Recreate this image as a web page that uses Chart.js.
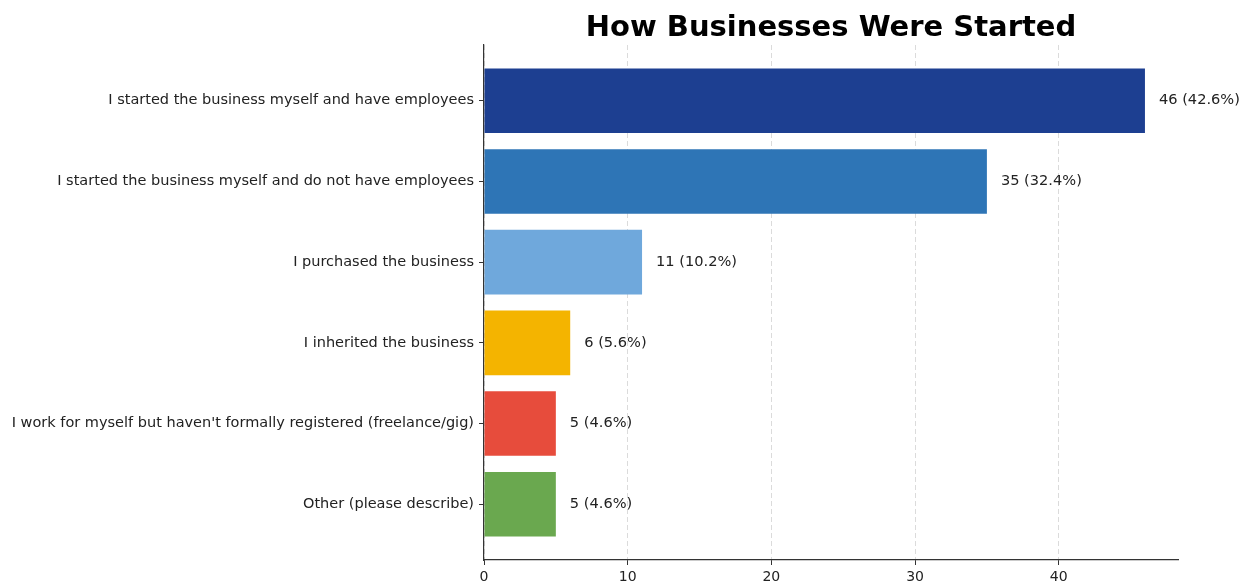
<!DOCTYPE html>
<html>
<head>
<meta charset="utf-8">
<script src="https://cdn.jsdelivr.net/npm/chart.js@4.4.1/dist/chart.umd.min.js"></script>
<style>
    html, body { margin: 0; padding: 0; background: #fff; }
    #wrap { width: 1248px; height: 582px; position: relative; }
</style>
</head>
<body>
<div id="wrap"><canvas id="startChart"></canvas></div>
<script>
/* ============================================
   How Businesses Were Started - horizontal bars
============================================ */

const categories = [
    'I started the business myself and have employees',
    'I started the business myself and do not have employees',
    'I purchased the business',
    'I inherited the business',
    "I work for myself but haven't formally registered (freelance/gig)",
    'Other (please describe)'
];
const counts = [46, 35, 11, 6, 5, 5];
const barColors = ['#1d3f91', '#2e75b6', '#6fa8dc', '#f4b400', '#e74c3c', '#6aa84f'];
const xTicks = [0, 10, 20, 30, 40];

const FONT = '"DejaVu Sans", sans-serif';
const total = counts.reduce((a, b) => a + b, 0);

/**
 * Count labels at the end of each bar
 */
const valueLabels = {
    id: 'valueLabels',
    afterDatasetsDraw(chart) {
        const ctx = chart.ctx;
        const meta = chart.getDatasetMeta(0);
        ctx.save();
        ctx.font = '14.6px ' + FONT;
        ctx.fillStyle = '#222';
        ctx.textAlign = 'left';
        ctx.textBaseline = 'middle';
        meta.data.forEach((bar, i) => {
            const pct = (counts[i] / total * 100).toFixed(1);
            ctx.fillText(`${counts[i]} (${pct}%)`, bar.x + 14, bar.y);
        });
        ctx.restore();
    }
};

/**
 * Title centred over the plot area
 */
const plotTitle = {
    id: 'plotTitle',
    afterDraw(chart) {
        const { ctx, chartArea } = chart;
        ctx.save();
        ctx.font = 'bold 29px ' + FONT;
        ctx.fillStyle = '#000';
        ctx.textAlign = 'center';
        ctx.textBaseline = 'alphabetic';
        ctx.fillText('How Businesses Were Started', (chartArea.left + chartArea.right) / 2, 36);
        ctx.restore();
    }
};

const ctx = document.getElementById('startChart');
new Chart(ctx, {
    type: 'bar',
    data: {
        datasets: [{
            data: counts.map((v, i) => ({ x: v, y: i })),
            backgroundColor: barColors,
            borderWidth: 0,
            barPercentage: 0.8,
            categoryPercentage: 1
        }]
    },
    options: {
        indexAxis: 'y',
        responsive: true,
        maintainAspectRatio: false,
        animation: false,
        layout: { padding: { top: 45, right: 70, left: 0, bottom: 0 } },
        plugins: {
            legend: { display: false },
            tooltip: { enabled: false },
            title: { display: false }
        },
        scales: {
            x: {
                type: 'linear',
                min: 0,
                max: 48.3,
                z: 1,
                afterBuildTicks: (scale) => {
                    scale.ticks = xTicks.map(v => ({ value: v }));
                },
                afterFit: (scale) => { scale.height = 22; },
                ticks: {
                    font: { family: FONT, size: 14 },
                    color: '#222',
                    padding: 4
                },
                grid: {
                    color: 'rgba(190,190,190,0.55)',
                    lineWidth: 1,
                    tickColor: '#333',
                    tickLength: 5
                },
                border: { display: true, color: '#333', width: 1.2, dash: [5, 3] }
            },
            y: {
                type: 'linear',
                reverse: true,
                offset: false,
                min: -0.69,
                max: 5.69,
                afterBuildTicks: (scale) => {
                    scale.ticks = categories.map((c, i) => ({ value: i }));
                },
                afterFit: (scale) => { scale.width = 484; },
                ticks: {
                    font: { family: FONT, size: 14.5 },
                    color: '#222',
                    padding: 5,
                    callback: (v) => categories[v]
                },
                grid: {
                    offset: false,
                    drawOnChartArea: false,
                    tickColor: '#333',
                    tickLength: 5
                },
                border: { display: true, color: '#333', width: 1.2 }
            }
        }
    },
    plugins: [valueLabels, plotTitle]
});
</script>
</body>
</html>
